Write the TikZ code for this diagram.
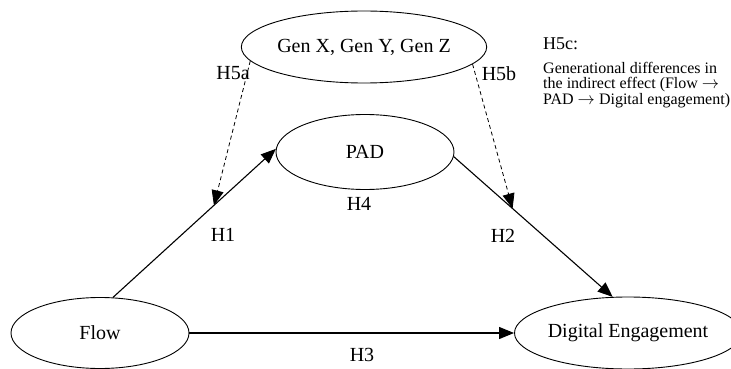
\documentclass[tikz,border=0pt]{standalone}
\usepackage{fontspec}
\setmainfont{Liberation Serif}
\usetikzlibrary{shapes.geometric,arrows.meta,calc}
\newcommand{\rarr}{\ensuremath{\rightarrow}}
\begin{document}
\begin{tikzpicture}[x=1pt,y=-1pt,
  var/.style={draw, ellipse, line width=0.9pt, inner sep=0pt, font=\fontsize{20}{24}\selectfont},
  lbl/.style={font=\fontsize{20}{24}\selectfont, inner sep=0pt},
  hpath/.style={line width=1.1pt, -{Triangle[length=15pt,width=12pt]}},
  hmod/.style={line width=0.8pt, dash pattern=on 4pt off 3pt, -{Triangle[length=15pt,width=12pt]}},
  note/.style={font=\fontsize{16}{15.5}\selectfont, inner sep=0pt, anchor=base west, align=left}]
\useasboundingbox (0,0) rectangle (731,369);
% variables
\node[var, minimum width=212pt, minimum height=72pt] (gen) at (364,47) {Gen X, Gen Y, Gen Z};
\node[var, minimum width=178pt, minimum height=75pt] (pad) at (365,152) {PAD};
\node[var, minimum width=178pt, minimum height=71pt] (flow) at (100,333) {Flow};
\node[var, minimum width=176pt, minimum height=72pt] (de) at (628,333) {Digital Engagement};
% paths
\draw[hpath] (flow.70) -- (pad.178);
\draw[hpath] (pad.357) -- (de.113);
\draw[hpath] (flow) -- (de);
% moderation points on the paths
\coordinate (m1) at ($(flow.70)!0.62!(pad.178)$);
\coordinate (m2) at ($(pad.357)!0.37!(de.113)$);
\draw[hmod] (gen.187) -- (m1);
\draw[hmod] (gen.351) -- (m2);
% labels
\node[lbl] (l5a) at (233,73.5) {H5a};
\node[lbl] (l5b) at (499,73.5) {H5b};
\node[lbl] (l4) at (359,203.5) {H4};
\node[lbl] (l1) at (223,235) {H1};
\node[lbl] (l2) at (503,235.5) {H2};
\node[lbl] (l3) at (362,355) {H3};
% note
\node[note, font=\fontsize{18}{20}\selectfont] (n0) at (543,50) {H5c:};
\node[note] (n1) at (543,104) {Generational differences in\\the indirect effect (Flow \rarr\\PAD \rarr\ Digital engagement)};
\end{tikzpicture}
\end{document}
